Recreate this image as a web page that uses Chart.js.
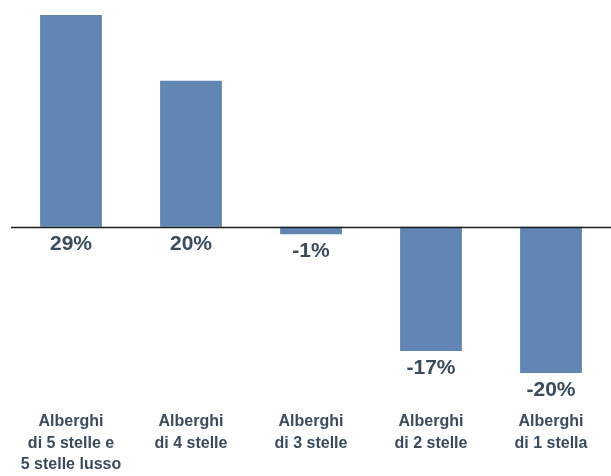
<!DOCTYPE html>
<html>
<head>
<meta charset="utf-8">
<script src="https://cdn.jsdelivr.net/npm/chart.js@4/dist/chart.umd.min.js"></script>
<style>
  html, body { margin: 0; padding: 0; background: #fff; }
  #wrap { width: 611px; height: 476px; }
</style>
</head>
<body>
<div id="wrap"><canvas id="myChart"></canvas></div>
<script>
const categories = [
    ['Alberghi', 'di 5 stelle e', '5 stelle lusso'],
    ['Alberghi', 'di 4 stelle'],
    ['Alberghi', 'di 3 stelle'],
    ['Alberghi', 'di 2 stelle'],
    ['Alberghi', 'di 1 stella']
];
const changes = [29, 20, -1, -17, -20];

const barColor = '#6186b4';
const textColor = '#3a4b5e';

// percentage labels: under the zero line for gains, under the bar end for losses
const valueLabels = {
    id: 'valueLabels',
    afterDatasetsDraw(chart) {
        const ctx = chart.ctx;
        const y = chart.scales.y;
        const meta = chart.getDatasetMeta(0);
        ctx.save();
        ctx.font = 'bold 21px "Liberation Sans", Arial, sans-serif';
        ctx.fillStyle = textColor;
        ctx.textAlign = 'center';
        ctx.textBaseline = 'middle';
        meta.data.forEach((bar, i) => {
            const v = changes[i];
            const base = v > 0 ? y.getPixelForValue(0) : y.getPixelForValue(v);
            ctx.fillText(v + '%', bar.x, base + 17);
        });
        ctx.restore();
    }
};

// horizontal zero line across the plot
const zeroLine = {
    id: 'zeroLine',
    afterDatasetsDraw(chart) {
        const ctx = chart.ctx;
        const area = chart.chartArea;
        const y0 = Math.round(chart.scales.y.getPixelForValue(0)) + 0.5;
        ctx.save();
        ctx.strokeStyle = '#1e1e1e';
        ctx.lineWidth = 1.6;
        ctx.beginPath();
        ctx.moveTo(area.left, y0);
        ctx.lineTo(area.right, y0);
        ctx.stroke();
        ctx.restore();
    }
};

const myChart = new Chart(document.getElementById('myChart'), {
    type: 'bar',
    data: {
        labels: categories,
        datasets: [{
            data: changes,
            backgroundColor: barColor,
            borderWidth: 0,
            barPercentage: 0.515,
            categoryPercentage: 1
        }]
    },
    options: {
        responsive: true,
        maintainAspectRatio: false,
        animation: false,
        layout: { padding: { left: 11, right: 0, top: 15, bottom: 0 } },
        plugins: {
            legend: { display: false },
            tooltip: { enabled: false }
        },
        scales: {
            x: {
                grid: { display: false, drawTicks: false },
                border: { display: false },
                afterFit(scale) { scale.height = 76; },
                ticks: {
                    color: textColor,
                    padding: 11,
                    maxRotation: 0,
                    autoSkip: false,
                    font: { family: '"Liberation Sans", Arial, sans-serif', size: 16, weight: 'bold', lineHeight: 1.35 }
                }
            },
            y: {
                display: false,
                min: -23.7,
                max: 29
            }
        }
    },
    plugins: [zeroLine, valueLabels]
});
</script>
</body>
</html>
